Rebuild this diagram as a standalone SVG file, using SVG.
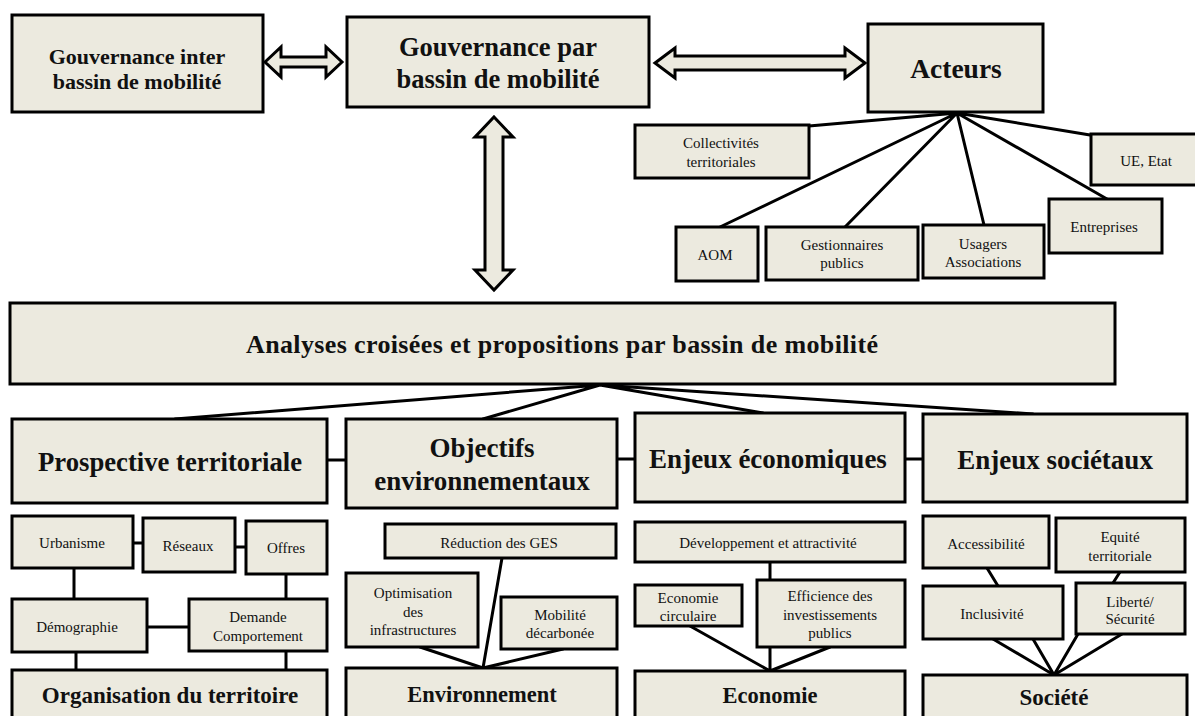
<svg xmlns="http://www.w3.org/2000/svg" width="1195" height="716" viewBox="0 0 1195 716">
<style>
.box{fill:#ECEADF;stroke:#000;stroke-width:3}
.ln{stroke:#000;stroke-width:3;fill:none;stroke-linecap:round}
.arr{fill:#ECEADF;stroke:#000;stroke-width:3;stroke-linejoin:miter}
.t{font-family:'Liberation Serif','DejaVu Serif',serif;fill:#111;text-anchor:middle}
.b{font-weight:bold}
.s{font-size:15px}
</style>
<rect width="1195" height="716" fill="#fff"/>
<g id="connectors">
<polygon class="arr" points="265,62 281,47 281,57 326,57 326,47 342,62 326,77 326,67 281,67 281,77"/>
<polygon class="arr" points="655,63 675,48 675,56 845,56 845,48 865,63 845,78 845,70 675,70 675,78"/>
<polygon class="arr" points="494,117 513,137 503,137 503,270 513,270 494,290 475,270 485,270 485,137 475,137"/>
<path class="ln" d="M957,113L809,126M957,113L720,227M957,113L845,227M957,113L984,225M957,113L1107,199M957,113L1090,135"/>
<path class="ln" d="M600,385L175,419M600,385L483,419M600,385L763,413M600,385L1033,414"/>
<path class="ln" d="M327,460H346M617,459H635M905,459H923"/>
<path class="ln" d="M133,543H143M235,547H246M74,568V599M286,574V599M147,627H189M76,652V670M286,651V670"/>
<path class="ln" d="M502,558L483,668M420,647L483,668M563,649L483,668"/>
<path class="ln" d="M770,562V580M690,626L770,671M770,647V671M830,647L770,671"/>
<path class="ln" d="M987,568L998,586M1120,572L1113,583M993,639L1054,675M1033,639L1054,675M1078,634L1054,675M1122,634L1054,675"/>
</g>
<g id="gouv-inter"><rect class="box" x="12" y="15" width="251" height="97"/>
<text class="t b" x="137" y="64" font-size="22">Gouvernance inter</text>
<text class="t b" x="137" y="89" font-size="22">bassin de mobilité</text></g>
<g id="gouv-par"><rect class="box" x="347" y="17" width="302" height="90"/>
<text class="t b" x="498" y="56" font-size="26.5">Gouvernance par</text>
<text class="t b" x="498" y="88" font-size="26.5">bassin de mobilité</text></g>
<g id="acteurs"><rect class="box" x="868" y="24" width="175" height="88"/>
<text class="t b" x="956" y="78" font-size="27.5">Acteurs</text></g>
<g id="collectivites"><rect class="box" x="635" y="125" width="174" height="53"/>
<text class="t s" x="721" y="148">Collectivités</text><text class="t s" x="721" y="167">territoriales</text></g>
<g id="ue-etat"><rect class="box" x="1091" y="134" width="110" height="51"/>
<text class="t s" x="1146" y="166">UE, Etat</text></g>
<g id="entreprises"><rect class="box" x="1049" y="199" width="113" height="54"/>
<text class="t s" x="1104" y="232">Entreprises</text></g>
<g id="aom"><rect class="box" x="676" y="227" width="82" height="54"/>
<text class="t s" x="715" y="260">AOM</text></g>
<g id="gestionnaires"><rect class="box" x="766" y="227" width="152" height="53"/>
<text class="t s" x="842" y="250">Gestionnaires</text><text class="t s" x="842" y="268">publics</text></g>
<g id="usagers"><rect class="box" x="923" y="225" width="121" height="53"/>
<text class="t s" x="983" y="249">Usagers</text><text class="t s" x="983" y="267">Associations</text></g>
<g id="analyses"><rect class="box" x="10" y="303" width="1105" height="81"/>
<text class="t b" x="562" y="353" font-size="26" textLength="632" lengthAdjust="spacing">Analyses croisées et propositions par bassin de mobilité</text></g>
<g id="prospective"><rect class="box" x="12" y="419" width="315" height="84"/>
<text class="t b" x="170" y="471" font-size="26.7">Prospective territoriale</text></g>
<g id="objectifs"><rect class="box" x="346" y="419" width="271" height="89"/>
<text class="t b" x="482" y="457" font-size="27">Objectifs</text>
<text class="t b" x="482" y="490" font-size="27">environnementaux</text></g>
<g id="enjeux-eco"><rect class="box" x="635" y="413" width="270" height="89"/>
<text class="t b" x="768" y="468" font-size="27">Enjeux économiques</text></g>
<g id="enjeux-soc"><rect class="box" x="923" y="414" width="264" height="88"/>
<text class="t b" x="1055" y="469" font-size="27">Enjeux sociétaux</text></g>
<g id="urbanisme"><rect class="box" x="12" y="516" width="121" height="52"/>
<text class="t s" x="72" y="548">Urbanisme</text></g>
<g id="reseaux"><rect class="box" x="143" y="518" width="92" height="54"/>
<text class="t s" x="188" y="551">Réseaux</text></g>
<g id="offres"><rect class="box" x="246" y="521" width="81" height="53"/>
<text class="t s" x="286" y="553">Offres</text></g>
<g id="demographie"><rect class="box" x="12" y="599" width="135" height="53"/>
<text class="t s" x="77" y="632">Démographie</text></g>
<g id="demande"><rect class="box" x="189" y="599" width="138" height="52"/>
<text class="t s" x="258" y="622">Demande</text><text class="t s" x="258" y="641">Comportement</text></g>
<g id="organisation"><rect class="box" x="12" y="670" width="315" height="60"/>
<text class="t b" x="170" y="703" font-size="23">Organisation du territoire</text></g>
<g id="reduction"><rect class="box" x="385" y="524" width="231" height="34"/>
<text class="t s" x="499" y="548">Réduction des GES</text></g>
<g id="optimisation"><rect class="box" x="346" y="573" width="132" height="74"/>
<text class="t s" x="413" y="598">Optimisation</text><text class="t s" x="413" y="617">des</text><text class="t s" x="413" y="635">infrastructures</text></g>
<g id="mobilite"><rect class="box" x="501" y="597" width="116" height="52"/>
<text class="t s" x="560" y="620">Mobilité</text><text class="t s" x="560" y="638">décarbonée</text></g>
<g id="environnement"><rect class="box" x="346" y="668" width="271" height="62"/>
<text class="t b" x="482" y="702" font-size="22.5">Environnement</text></g>
<g id="developpement"><rect class="box" x="635" y="522" width="270" height="40"/>
<text class="t s" x="768" y="548">Développement et attractivité</text></g>
<g id="eco-circ"><rect class="box" x="635" y="585" width="107" height="41"/>
<text class="t s" x="688" y="603">Economie</text><text class="t s" x="688" y="621">circulaire</text></g>
<g id="efficience"><rect class="box" x="757" y="580" width="148" height="67"/>
<text class="t s" x="830" y="601">Efficience des</text><text class="t s" x="830" y="620">investissements</text><text class="t s" x="830" y="638">publics</text></g>
<g id="economie"><rect class="box" x="635" y="671" width="270" height="60"/>
<text class="t b" x="770" y="703" font-size="22.5">Economie</text></g>
<g id="accessibilite"><rect class="box" x="923" y="516" width="126" height="52"/>
<text class="t s" x="986" y="549">Accessibilité</text></g>
<g id="equite"><rect class="box" x="1056" y="518" width="129" height="54"/>
<text class="t s" x="1120" y="542">Equité</text><text class="t s" x="1120" y="561">territoriale</text></g>
<g id="inclusivite"><rect class="box" x="923" y="586" width="140" height="53"/>
<text class="t s" x="992" y="619">Inclusivité</text></g>
<g id="liberte"><rect class="box" x="1076" y="583" width="109" height="51"/>
<text class="t s" x="1130" y="607">Liberté/</text><text class="t s" x="1130" y="624">Sécurité</text></g>
<g id="societe"><rect class="box" x="923" y="675" width="264" height="60"/>
<text class="t b" x="1054" y="705" font-size="23">Société</text></g>
</svg>
